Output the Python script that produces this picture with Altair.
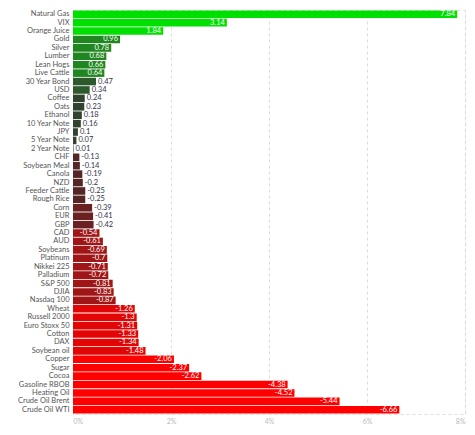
import altair as alt
import pandas as pd

categories = ["Natural Gas", "VIX", "Orange Juice", "Gold", "Silver", "Lumber", "Lean Hogs",
              "Live Cattle", "30 Year Bond", "USD", "Coffee", "Oats", "Ethanol", "10 Year Note",
              "JPY", "5 Year Note", "2 Year Note", "CHF", "Soybean Meal", "Canola", "NZD",
              "Feeder Cattle", "Rough Rice", "Corn", "EUR", "GBP", "CAD", "AUD", "Soybeans",
              "Platinum", "Nikkei 225", "Palladium", "S&P 500", "DJIA", "Nasdaq 100", "Wheat",
              "Russell 2000", "Euro Stoxx 50", "Cotton", "DAX", "Soybean oil", "Copper", "Sugar",
              "Cocoa", "Gasoline RBOB", "Heating Oil", "Crude Oil Brent", "Crude Oil WTI"]
values = [7.84, 3.14, 1.84, 0.96, 0.78, 0.68, 0.66, 0.64, 0.47, 0.34, 0.24, 0.23, 0.18, 0.16,
          0.1, 0.07, 0.01, -0.13, -0.14, -0.19, -0.2, -0.25, -0.25, -0.39, -0.41, -0.42, -0.54,
          -0.61, -0.69, -0.7, -0.71, -0.72, -0.81, -0.83, -0.87, -1.26, -1.3, -1.31, -1.33,
          -1.34, -1.48, -2.06, -2.37, -2.62, -4.38, -4.52, -5.44, -6.66]
x_ticks = [0, 2, 4, 6, 8]

df = pd.DataFrame({"name": categories, "value": values,
                   "label": [str(v) for v in values]})

color_scale = alt.Scale(
    type="threshold",
    domain=[-2, -1, -0.5, -0.3, 0, 0.3, 0.5, 1],
    range=["#ff0000", "#e20505", "#a01616", "#6b2121", "#552626",
           "#2f432f", "#2d592d", "#208720", "#00e000"],
)

y_enc = alt.Y("name:N", sort=categories, title=None,
              scale=alt.Scale(paddingInner=0.1, paddingOuter=0.05),
              axis=alt.Axis(ticks=False, domain=False, labelFont="Lato", labelFontSize=7.5,
                            labelColor="#555555", labelPadding=4))
x_enc = alt.X("absval:Q", title=None,
              scale=alt.Scale(domain=[0, 8], nice=False),
              axis=alt.Axis(values=x_ticks, labelExpr="datum.value + '%'", ticks=False,
                            domain=False, grid=True, gridDash=[3, 3], gridColor="#dddddd",
                            labelColor="#bbbbbb", labelFont="Lato", labelFontSize=7,
                            labelPadding=3))

base = alt.Chart(df).transform_calculate(absval="abs(datum.value)")

bars = base.mark_bar().encode(
    y=y_enc, x=x_enc,
    color=alt.Color("value:Q", scale=color_scale, legend=None),
)

inside = base.transform_filter("abs(datum.value) >= 0.5").mark_text(
    align="right", baseline="middle", dx=-2, font="Lato", fontSize=7.5, color="white",
).encode(y=y_enc, x=x_enc, text="label:N")

outside = base.transform_filter("abs(datum.value) < 0.5").mark_text(
    align="left", baseline="middle", dx=2, font="Lato", fontSize=7.5, color="#33334a",
).encode(y=y_enc, x=x_enc, text="label:N")

chart = (bars + inside + outside).properties(
    width=392, height=404,
    autosize=alt.AutoSizeParams(type="none"),
    padding={"left": 65, "top": 2, "right": 2, "bottom": 11},
).configure_view(stroke="#dddddd", strokeDash=[3, 3])

chart.save("out.html", embed_options={"renderer": "svg", "actions": False})
